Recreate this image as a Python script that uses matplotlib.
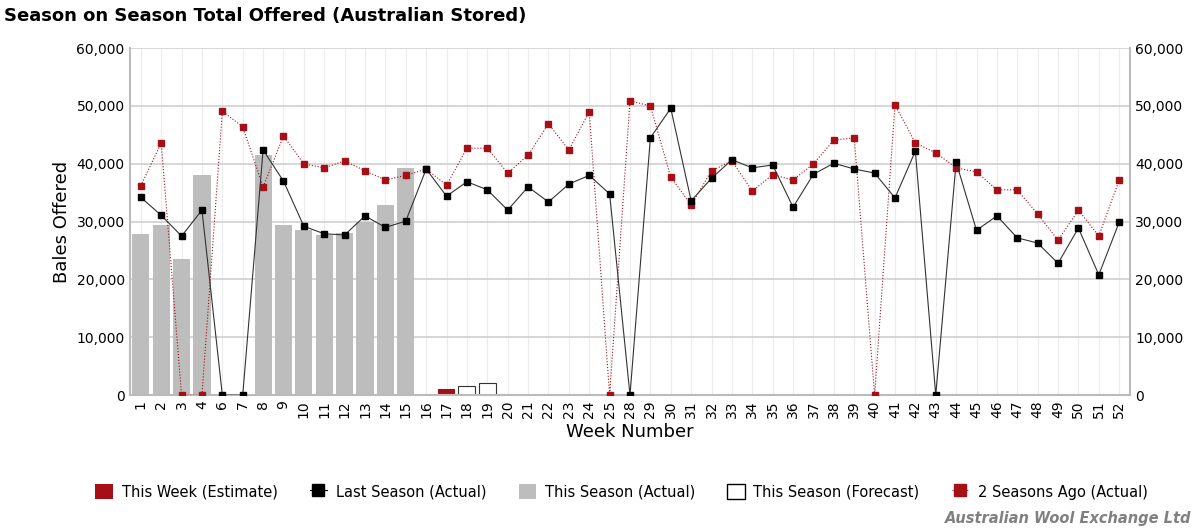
import numpy as np
import matplotlib
matplotlib.use("Agg")
from matplotlib import pyplot as plt
from matplotlib.lines import Line2D
from matplotlib.patches import Patch

weeks = [1, 2, 3, 4] + list(range(6, 26)) + list(range(28, 53))

last_season = [34200, 31100, 27500, 32000, 0, 0, 42400, 37000, 29200, 27900,
               27700, 31000, 29000, 30100, 39100, 34400, 36900, 35500, 32000, 36000,
               33400, 36500, 38000, 34800, 0, 44500, 49600, 33600, 37500, 40700,
               39300, 39800, 32500, 38200, 40100, 39100, 38400, 34100, 42200, 0,
               40300, 28500, 31000, 27200, 26300, 22800, 28900, 20800, 29900]

two_seasons_ago = [36200, 43600, 0, 0, 49100, 46400, 36000, 44800, 40000, 39300,
                   40500, 38800, 37200, 38000, 39100, 36300, 42700, 42700, 38400, 41500,
                   46900, 42400, 49000, 0, 50900, 50000, 37700, 32900, 38800, 40500,
                   35300, 38100, 37200, 40000, 44100, 44500, 0, 50200, 43600, 41900,
                   39300, 38600, 35500, 35500, 31300, 26800, 32000, 27500, 37200]

this_season = [27800, 29400, 23600, 38000, 0, 0, 41500, 29400, 28600, 27700,
               28000, 30000, 32900, 39300]

estimate_week = 17
estimate_value = 1100
forecast_weeks = [18, 19]
forecast_values = [1500, 2100]

RED = "#a50f15"
GREY = "#bdbdbd"

x = np.arange(len(weeks))
idx = {w: i for i, w in enumerate(weeks)}

fig = plt.figure(figsize=(12, 5.29), dpi=100)
ax = fig.add_axes([0.108, 0.253, 0.834, 0.656])

ax.bar(x[:len(this_season)], this_season, width=0.84, color=GREY, zorder=2)
ax.bar([idx[estimate_week]], [estimate_value], width=0.84, color=RED, zorder=2)
ax.bar([idx[w] for w in forecast_weeks], forecast_values, width=0.84,
       facecolor="white", edgecolor="#333333", linewidth=0.8, zorder=2)
ax.plot(x, two_seasons_ago, color=RED, linestyle=":", linewidth=0.8,
        marker="s", markersize=5, zorder=3)
ax.plot(x, last_season, color="#333333", linewidth=0.8,
        marker="s", markersize=5, markerfacecolor="black",
        markeredgecolor="black", zorder=4)

ax.set_xlim(-0.55, len(weeks) - 0.45)
ax.set_ylim(0, 60000)
ticks = np.arange(0, 60001, 10000)
ax.set_yticks(ticks)
ax.set_yticklabels([f"{t:,}" for t in ticks], fontsize=10)
ax.set_xticks(x)
ax.set_xticklabels([str(w) for w in weeks], rotation=90, fontsize=10)
ax.tick_params(length=0)
ax.grid(axis="y", color="#d0d0d0", linewidth=1.2, zorder=0)
for xi in x:
    ax.axvline(xi, color="#ececec", linewidth=0.8, zorder=0)
ax.spines["top"].set_visible(False)
for s in ["left", "right", "bottom"]:
    ax.spines[s].set_color("#bbbbbb")
    ax.spines[s].set_linewidth(1.5)

ax2 = ax.twinx()
ax2.set_ylim(0, 60000)
ax2.set_yticks(ticks)
ax2.set_yticklabels([f"{t:,}" for t in ticks], fontsize=10)
ax2.tick_params(length=0)
for s in ["top", "left", "right", "bottom"]:
    ax2.spines[s].set_visible(False)

ax.set_ylabel("Bales Offered", fontsize=13)
ax.set_xlabel("Week Number", fontsize=13)
fig.text(0.003, 0.97, "Season on Season Total Offered (Australian Stored)",
         fontsize=13, fontweight="bold", va="center")

handles = [
    Patch(facecolor=RED),
    Line2D([0], [0], color="black", marker="s", markersize=8, linewidth=0.8),
    Patch(facecolor=GREY),
    Patch(facecolor="white", edgecolor="black"),
    Line2D([0], [0], color=RED, marker="s", markersize=8, linestyle=":", linewidth=0.8),
]
labels = ["This Week (Estimate)", "Last Season (Actual)", "This Season (Actual)",
          "This Season (Forecast)", "2 Seasons Ago (Actual)"]
fig.legend(handles, labels, loc="center", bbox_to_anchor=(0.518, 0.07), ncol=5,
           frameon=False, fontsize=10.5, columnspacing=2.2, handlelength=1.2,
           handleheight=1.2, handletextpad=0.6)
fig.text(0.993, 0.02, "Australian Wool Exchange Ltd", ha="right", va="center",
         fontsize=10.5, fontstyle="italic", fontweight="bold", color="#808080")

fig.savefig("out.png", dpi=100)
